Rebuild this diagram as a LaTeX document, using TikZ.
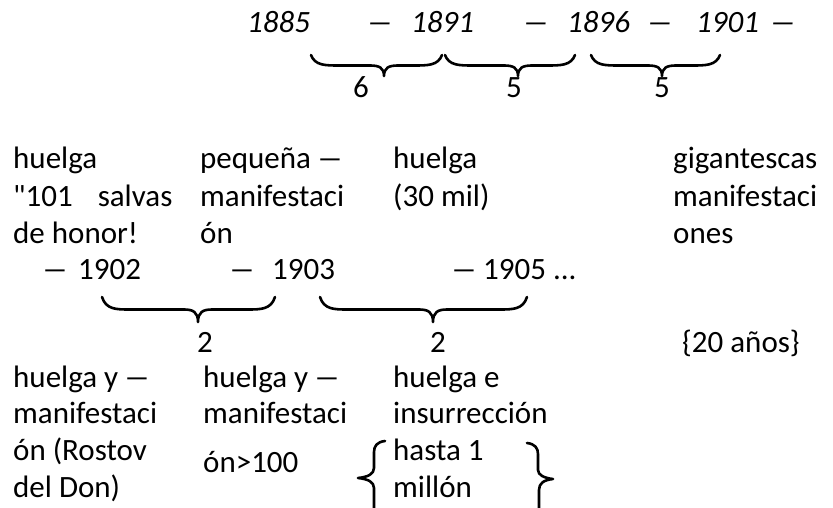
\documentclass[tikz,border=0pt]{standalone}
\usepackage{graphicx}
\usepackage{fontspec}
\setmainfont{Carlito}
\newfontfamily\rawcarlito{Carlito}
\newcommand\emd{\scalebox{0.85}[1]{—}}
\begin{document}
\begin{tikzpicture}[x=1pt,y=-1pt,
  txt/.style={inner sep=0pt, anchor=base west, font=\fontsize{31}{37}\selectfont},
  yr/.style={inner sep=0pt, anchor=base west, font=\fontsize{31}{37}\selectfont\itshape},
  lbl/.style={inner sep=0pt, anchor=base, font=\fontsize{31}{37}\selectfont},
  brc/.style={line width=2.6pt, line cap=round, line join=round}]
\useasboundingbox (0,0) rectangle (833,508);
\def\hbrace#1#2#3#4#5{%
  \draw[brc] (#1,#4) .. controls ({#1+4},{#4+0.5*(#5-#4)}) and ({#1+14},{#4+0.5*(#5-#4)}) .. ({#1+28},{#4+0.5*(#5-#4)})
    -- ({#3-14},{#4+0.5*(#5-#4)}) .. controls ({#3-5},{#4+0.5*(#5-#4)}) and (#3,{#4+0.6*(#5-#4)}) .. (#3,#5)
    .. controls (#3,{#4+0.6*(#5-#4)}) and ({#3+5},{#4+0.5*(#5-#4)}) .. ({#3+14},{#4+0.5*(#5-#4)})
    -- ({#2-28},{#4+0.5*(#5-#4)}) .. controls ({#2-14},{#4+0.5*(#5-#4)}) and ({#2-4},{#4+0.5*(#5-#4)}) .. (#2,#4);}
% row 1
\node[yr] (y1885) at (247,33) {1885};
\node[yr] (d1) at (368,33) {\emd};
\node[yr] (y1891) at (411,33) {1891};
\node[yr] (d2) at (524,33) {\emd};
\node[yr] (y1896) at (567,33) {1896};
\node[yr] (d3) at (648,33) {\emd};
\node[yr] (y1901) at (696,33) {1901};
\node[yr] (d4) at (771,33) {\emd};
\hbrace{311}{442}{384}{55}{76}
\hbrace{445}{575}{518}{55}{76}
\hbrace{591}{720}{662}{55}{76}
\node[lbl] (n6) at (361,98) {6};
\node[lbl] (n5a) at (514,98) {5};
\node[lbl] (n5b) at (662,98) {5};
% upper text block
\node[txt] (c1a) at (13,169) {huelga};
\node[txt] (c1b) at (13,206) {{\rawcarlito "}101\hspace{25pt}salvas};
\node[txt] (c1c) at (13,243) {de honor!};
\node[txt] (c2a) at (200,169) {pequeña \emd};
\node[txt] (c2b) at (200,206) {manifestaci};
\node[txt] (c2c) at (200,243) {ón};
\node[txt] (c3a) at (393,169) {huelga};
\node[txt] (c3b) at (393,206) {(30 mil)};
\node[txt] (c4a) at (673,169) {gigantescas};
\node[txt] (c4b) at (673,206) {manifestaci};
\node[txt] (c4c) at (673,243) {ones};
% row 2
\node[txt] (d5) at (43,279) {\emd};
\node[txt] (y1902) at (78,279) {1902};
\node[txt] (d6) at (230,279) {\emd};
\node[txt] (y1903) at (272,279) {1903};
\node[txt] (d7) at (452,279) {\emd};
\node[txt] (y1905) at (483,279) {1905 ...};
\hbrace{102}{275}{198}{297}{322}
\hbrace{320}{527}{433}{297}{322}
\node[lbl] (n2a) at (205,352) {2};
\node[lbl] (n2b) at (438,352) {2};
\node[txt] (anos) at (682,352) {\{20 años\}};
% lower text block
\node[txt] (e1a) at (13,387) {huelga y \emd};
\node[txt] (e1b) at (13,423) {manifestaci};
\node[txt] (e1c) at (13,460) {ón (Rostov};
\node[txt] (e1d) at (13,497) {del Don)};
\node[txt] (e2a) at (203,387) {huelga y \emd};
\node[txt] (e2b) at (203,423) {manifestaci};
\node[txt] (e2c) at (203,472) {ón>100};
\node[txt] (e3a) at (393,387) {huelga e};
\node[txt] (e3b) at (393,423) {insurrección};
\node[txt] (e3c) at (393,460) {hasta 1};
\node[txt] (e3d) at (393,497) {millón};
\draw[brc] (385,441) .. controls (377,442) and (374,446) .. (374,452) -- (374,468)
  .. controls (374,474) and (368,477) .. (358,478) .. controls (368,479) and (374,482) .. (374,488) -- (374,508);
\draw[brc] (527,443) .. controls (535,444) and (538,448) .. (538,454) -- (538,470)
  .. controls (538,475) and (544,478) .. (553,479) .. controls (544,480) and (539,483) .. (539,490) -- (539,508);
\end{tikzpicture}
\end{document}
